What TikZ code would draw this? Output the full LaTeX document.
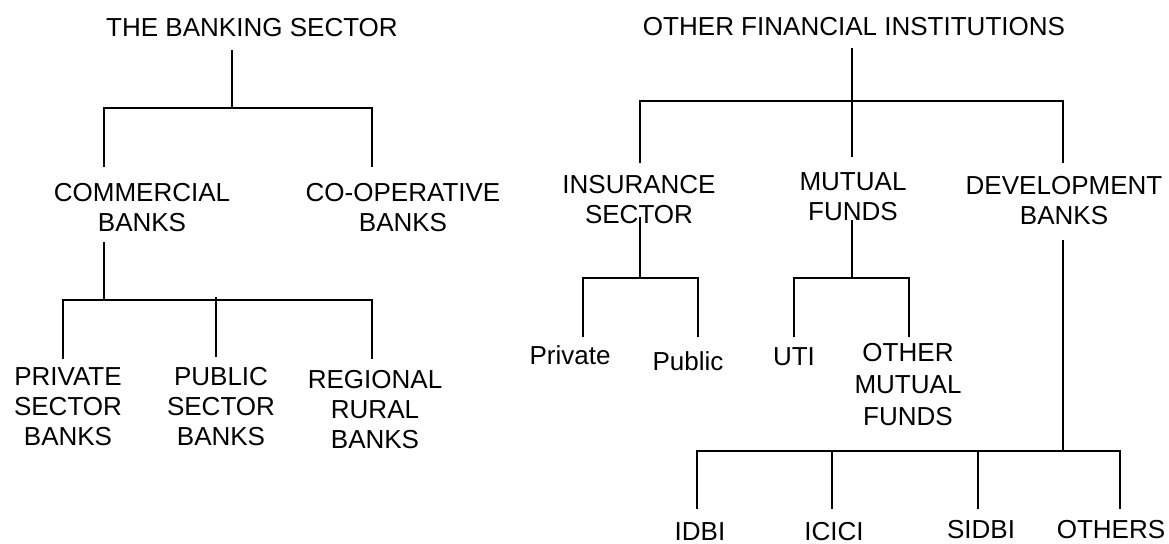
\documentclass[tikz,border=0pt]{standalone}
\usepackage{fontspec}
\setmainfont{Liberation Sans}
\begin{document}
\begin{tikzpicture}[x=0.025cm,y=-0.025cm,
    lbl/.style={anchor=north, inner sep=0pt, align=center,
      font=\fontsize{18.5pt}{21.3pt}\selectfont},
    link/.style={line width=1.4pt}]
    \useasboundingbox (0,0) rectangle (1169,544);

    % Sector bancario (izquierda)
    \node[lbl] (bank) at (252,18) {THE BANKING SECTOR};
    \node[lbl] (com)  at (142,183) {COMMERCIAL\\BANKS};
    \node[lbl] (coop) at (403,183) {CO-OPERATIVE\\BANKS};
    \node[lbl] (priv) at (68,367)  {PRIVATE\\SECTOR\\BANKS};
    \node[lbl] (pub)  at (221,367) {PUBLIC\\SECTOR\\BANKS};
    \node[lbl] (rrb)  at (375,370) {REGIONAL\\RURAL\\BANKS};

    % Puntos de union
    \coordinate (bankDn) at (232,50);
    \coordinate (bankBar) at (232,108);
    \coordinate (comUp) at (104,167);
    \coordinate (coopUp) at (372,167);
    \coordinate (comDn) at (104,242);
    \coordinate (comBar) at (104,300);
    \coordinate (privUp) at (63,359);
    \coordinate (pubUp) at (216,357);
    \coordinate (rrbUp) at (372,359);

    \draw[link] (bankDn) -- (bankBar);
    \draw[link] (comUp) |- (bankBar) -| (coopUp);
    \draw[link] (comDn) -- (comBar);
    \draw[link] (privUp) |- (comBar) -| (rrbUp);
    \draw[link] (pubUp) -- ([yshift=2pt]pubUp |- comBar);

    % Otras instituciones financieras (derecha)
    \node[lbl] (ofi) at (854,17)  {OTHER FINANCIAL INSTITUTIONS};
    \node[lbl] (ins) at (639,175) {INSURANCE\\SECTOR};
    \node[lbl] (mf)  at (853,172) {MUTUAL\\FUNDS};
    \node[lbl] (dev) at (1064,176) {DEVELOPMENT\\BANKS};
    \node[lbl] (priva) at (570,345) {Private};
    \node[lbl] (publ)  at (688,351) {Public};
    \node[lbl] (uti)   at (794,347) {UTI};
    \node[lbl, font=\fontsize{18.5pt}{22.8pt}\selectfont] (omf) at (908,343) {OTHER\\MUTUAL\\FUNDS};
    \node[lbl] (idbi)  at (700,522) {IDBI};
    \node[lbl] (icici) at (834,522) {ICICI};
    \node[lbl] (sidbi) at (981,520) {SIDBI};
    \node[lbl] (oth)   at (1111,520) {OTHERS};

    % Puntos de union
    \coordinate (ofiDn) at (852,48);
    \coordinate (ofiBar) at (852,101);
    \coordinate (insUp) at (640,163);
    \coordinate (mfUp) at (852,157);
    \coordinate (devUp) at (1063,163);
    \coordinate (insDn) at (640,217);
    \coordinate (insBar) at (640,278);
    \coordinate (privaUp) at (583,337);
    \coordinate (publUp) at (698,337);
    \coordinate (mfDn) at (852,220);
    \coordinate (mfBar) at (852,278);
    \coordinate (utiUp) at (794,337);
    \coordinate (omfUp) at (909,337);
    \coordinate (devDn) at (1063,240);
    \coordinate (devBar) at (1063,451);
    \coordinate (idbiUp) at (697,509);
    \coordinate (iciciUp) at (832,509);
    \coordinate (sidbiUp) at (978,509);
    \coordinate (othUp) at (1120,509);

    \draw[link] (ofiDn) -- (ofiBar);
    \draw[link] (insUp) |- (ofiBar) -| (devUp);
    \draw[link] (mfUp) -- (ofiBar);
    \draw[link] (insDn) -- (insBar);
    \draw[link] (privaUp) |- (insBar) -| (publUp);
    \draw[link] (mfDn) -- (mfBar);
    \draw[link] (utiUp) |- (mfBar) -| (omfUp);
    \draw[link] (devDn) -- (devBar);
    \draw[link] (idbiUp) |- (devBar) -| (othUp);
    \draw[link] (iciciUp) -- (iciciUp |- devBar);
    \draw[link] (sidbiUp) -- (sidbiUp |- devBar);
\end{tikzpicture}
\end{document}
